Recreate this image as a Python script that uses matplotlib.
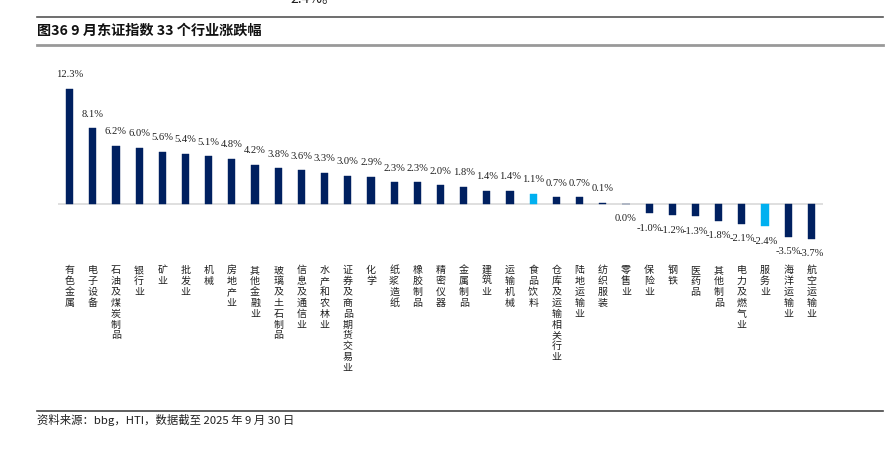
import matplotlib
matplotlib.use("Agg")
import matplotlib.pyplot as plt
from matplotlib.lines import Line2D

plt.rcParams['font.family'] = ['Noto Sans CJK SC', 'DejaVu Sans']

# 行业名称与 9 月涨跌幅 (%)
industries = ["有色金属", "电子设备", "石油及煤炭制品", "银行业", "矿业", "批发业", "机械",
              "房地产业", "其他金融业", "玻璃及土石制品", "信息及通信业", "水产和农林业",
              "证券及商品期货交易业", "化学", "纸浆造纸", "橡胶制品", "精密仪器", "金属制品",
              "建筑业", "运输机械", "食品饮料", "仓库及运输相关行业", "陆地运输业", "纺织服装",
              "零售业", "保险业", "钢铁", "医药品", "其他制品", "电力及燃气业", "服务业",
              "海洋运输业", "航空运输业"]
changes = [12.3, 8.1, 6.2, 6.0, 5.6, 5.4, 5.1, 4.8, 4.2, 3.8, 3.6, 3.3, 3.0, 2.9, 2.3, 2.3,
           2.0, 1.8, 1.4, 1.4, 1.1, 0.7, 0.7, 0.1, 0.0, -1.0, -1.2, -1.3, -1.8, -2.1, -2.4,
           -3.5, -3.7]
highlight = ["食品饮料", "服务业"]

NAVY = "#002060"
LIGHT = "#00B0F0"

W, H = 894, 450
fig = plt.figure(figsize=(W / 100, H / 100), dpi=100)

# axes placed by pixels: x 58..823, y 60..245 (from top)
ax = fig.add_axes([58 / W, 1 - 245 / H, 765 / W, 185 / H])
x = list(range(len(industries)))
colors = [LIGHT if n in highlight else NAVY for n in industries]
ax.bar(x, changes, width=0.31, color=colors, edgecolor=colors, linewidth=0.3, zorder=2)
ax.axhline(0, color="#d9d9d9", linewidth=1.2, zorder=1)
ax.set_xlim(-0.5, len(industries) - 0.5)
ax.set_ylim(-4.385, 15.4)
ax.axis("off")

# value labels
for i, v in enumerate(changes):
    if v > 0:
        ax.annotate(f"{v:.1f}%", xy=(i, v), xytext=(0, 7), textcoords="offset points",
                    ha="center", va="bottom", fontsize=7.6, family="Liberation Serif",
                    color="#202020")
    else:
        ax.annotate(f"{v:.1f}%", xy=(i, v), xytext=(0, -7.5), textcoords="offset points",
                    ha="center", va="top", fontsize=7.6, family="Liberation Serif",
                    color="#202020")

# vertical category labels, one character per line
for i, name in enumerate(industries):
    for j, ch in enumerate(name):
        ax.annotate(ch, xy=(i, H - 270 - j * 10.9), xycoords=("data", "figure pixels"),
                    ha="center", va="center", fontsize=7.2, color="#202020",
                    annotation_clip=False)

# header / footer
fig.text(290 / W, 1 - 3 / H, "2.4%。", fontsize=10, ha="left", va="baseline", color="#202020")
fig.add_artist(Line2D([37 / W, 883 / W], [1 - 17 / H] * 2, color="#555555", linewidth=1.2))
fig.text(37 / W, 1 - 31 / H, "图36 9 月东证指数 33 个行业涨跌幅", fontsize=10.2,
         fontweight="bold", ha="left", va="center", color="#111111")
fig.add_artist(Line2D([37 / W, 883 / W], [1 - 44.5 / H] * 2, color="#999999", linewidth=2))
fig.add_artist(Line2D([37 / W, 883 / W], [1 - 411 / H] * 2, color="#444444", linewidth=1.2))
fig.text(37 / W, 1 - 420 / H, "资料来源：bbg，HTI，数据截至 2025 年 9 月 30 日", fontsize=8.2,
         ha="left", va="center", color="#222222")

fig.savefig("out.png", dpi=100)
